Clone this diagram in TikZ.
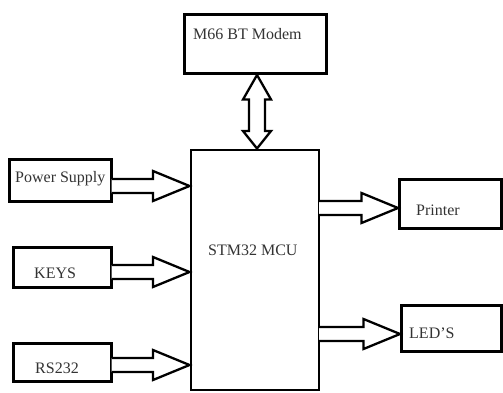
\documentclass[tikz,border=0pt]{standalone}
\usepackage{fontspec}
\setmainfont{Liberation Serif}
\usetikzlibrary{calc}
\tikzset{
  box/.style={draw=black, line width=2.6pt, rectangle, inner sep=0pt, outer sep=0pt, anchor=north west},
  lbl/.style={anchor=base west, inner sep=0pt, text=black!80, font=\fontsize{16}{19}\selectfont},
  blockarrow/.style={draw=black, line width=2.3pt, line join=miter, fill=white}
}
% horizontal block arrow from node #1 to node #2 at pixel height #3
\newcommand{\harrow}[3]{%
  \draw[blockarrow] let \p1=($(#1.east |- 0,#3)$), \p2=($(#2.west |- 0,#3)$) in
    (\x1,\y1+7pt) -- (\x2-38pt,\y1+7pt) -- (\x2-38pt,\y1+15pt) -- (\x2-1.5pt,\y1)
    -- (\x2-38pt,\y1-15pt) -- (\x2-38pt,\y1-7pt) -- (\x1,\y1-7pt);}
\begin{document}
\begin{tikzpicture}[x=1pt,y=-1pt]
\useasboundingbox (0,0) rectangle (503,393);
\fill[white] (0,0) rectangle (503,393);

\node[box, minimum width=142pt, minimum height=59pt] (m66) at (184.5,14.5) {};
\node[box, minimum width=128pt, minimum height=240pt] (mcu) at (191,150) {};
\node[box, minimum width=102pt, minimum height=42pt] (ps) at (9.5,159.5) {};
\node[box, minimum width=98pt, minimum height=40pt] (keys) at (13.5,247.5) {};
\node[box, minimum width=98pt, minimum height=38pt] (rs) at (13.5,343.5) {};
\node[box, minimum width=102pt, minimum height=49pt] (printer) at (399.5,179.5) {};
\node[box, minimum width=100pt, minimum height=46pt] (leds) at (401.5,305.5) {};

\node[lbl] (m66t) at (193,40) {M66 BT Modem};
\node[lbl] (pst) at (15,182) {Power Supply};
\node[lbl] (keyst) at (34,278) {KEYS};
\node[lbl] (rst) at (35,373) {RS232};
\node[lbl] (mcut) at (208,255) {STM32 MCU};
\node[lbl] (printert) at (416,215) {Printer};
\node[lbl] (ledst) at (409,338) {LED'S};

\harrow{ps}{mcu}{186}
\harrow{keys}{mcu}{272}
\harrow{rs}{mcu}{365}
\harrow{mcu}{printer}{208}
\harrow{mcu}{leds}{334}

% bidirectional arrow between modem and MCU
\draw[blockarrow] let \p1=($(m66.south -| 257,0)$), \p2=($(mcu.north -| 257,0)$) in
  (\x1,\y1-1.5pt) -- (\x1+14pt,\y1-26pt) -- (\x1+8pt,\y1-26pt) -- (\x1+8pt,\y2+19pt)
  -- (\x1+14pt,\y2+19pt) -- (\x1,\y2+1.5pt) -- (\x1-14pt,\y2+19pt) -- (\x1-8pt,\y2+19pt)
  -- (\x1-8pt,\y1-26pt) -- (\x1-14pt,\y1-26pt) -- cycle;
\end{tikzpicture}
\end{document}
